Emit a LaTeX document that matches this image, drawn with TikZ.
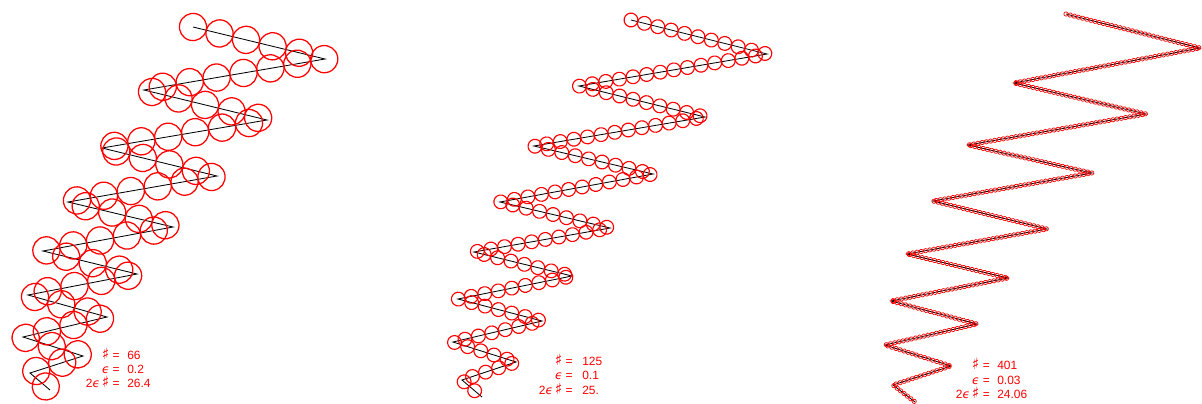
\documentclass[tikz,border=0pt]{standalone}
\usepackage{fontspec}
\setmainfont{Liberation Sans}
\newfontfamily\symfont{DejaVu Sans}
\usetikzlibrary{decorations.markings}

\newcommand{\sharpsym}{{\symfont\fontsize{11}{11}\selectfont\char"266F}}
\newcommand{\epssym}{{\symfont\itshape\char"03F5}}

\begin{document}
\begin{tikzpicture}[
    x=0.025cm, y=-0.025cm,
    zig/.style={black, line width=0.6pt, line join=miter},
    cover/.style n args={3}{postaction={decorate, decoration={markings,
        mark=between positions 0 and 1 step #2 with {\draw[red, line width=#3] (0,0) circle (#1);}}}},
    lbl/.style={anchor=base east, inner sep=0pt, text=red, font=\fontsize{8.5}{9}\selectfont},
    val/.style={anchor=base west, inner sep=0pt, text=red, font=\fontsize{8.5}{9}\selectfont},
]
\useasboundingbox (0,0) rectangle (1202,403);

\begin{scope}
\clip (0,0) rectangle (1202,403);
% eps = 0.2
\draw[zig, cover={13.6}{0.6825cm}{0.9pt}] (193,27) -- (325,59) -- (144,90) -- (267,120) -- (102,148)
    -- (217,176) -- (68,202) -- (173,227) -- (43,251) -- (137,274) -- (28,295) -- (107,317)
    -- (23,337) -- (83,356) -- (30,373) -- (50,390);
% eps = 0.1
\draw[zig, cover={6.9}{0.345cm}{0.8pt}] (631,20) -- (767,54) -- (579,86) -- (705,117) -- (534,146)
    -- (653,174) -- (500,202) -- (610,228) -- (474,252) -- (572,276) -- (458,299) -- (542,321)
    -- (453,342) -- (516,362) -- (462,380) -- (482,397);
% eps = 0.03
\draw[zig, cover={2.15}{0.107cm}{0.5pt}] (1066,14) -- (1200,48) -- (1014,83) -- (1146,114) -- (968,145)
    -- (1092,173) -- (933,201) -- (1047,229) -- (907,254) -- (1008,278) -- (891,301) -- (977,324)
    -- (885,345) -- (951,366) -- (893,385) -- (915,402);
\end{scope}

% counts
\node[lbl] (cnt1) at (120,359) {\sharpsym{} =};
\node[val] (cntv1) at (127,359) {66};
\node[lbl] (eps1) at (120,373) {\epssym{} =};
\node[val] (epsv1) at (127,373) {0.2};
\node[lbl] (len1) at (120,387) {2\epssym\,\sharpsym{} =};
\node[val] (lenv1) at (127,387) {26.4};

\node[lbl] (cnt2) at (573,365.5) {\sharpsym{} =};
\node[val] (cntv2) at (582,365.5) {125};
\node[lbl] (eps2) at (573,379.5) {\epssym{} =};
\node[val] (epsv2) at (582,379.5) {0.1};
\node[lbl] (len2) at (573,394) {2\epssym\,\sharpsym{} =};
\node[val] (lenv2) at (582,394) {25.};

\node[lbl] (cnt3) at (990,369) {\sharpsym{} =};
\node[val] (cntv3) at (997,369) {401};
\node[lbl] (eps3) at (990,384) {\epssym{} =};
\node[val] (epsv3) at (997,384) {0.03};
\node[lbl] (len3) at (990,398) {2\epssym\,\sharpsym{} =};
\node[val] (lenv3) at (997,398) {24.06};
\end{tikzpicture}
\end{document}
